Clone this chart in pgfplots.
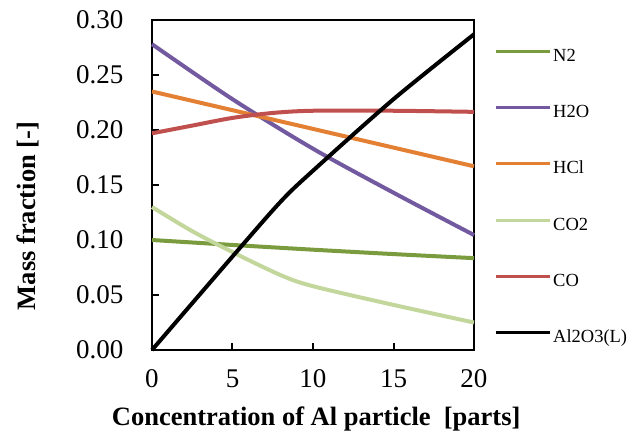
\documentclass[border=0pt]{standalone}
\usepackage{fontspec}
\setmainfont{Liberation Serif}
\usepackage{pgfplots}
\pgfplotsset{compat=1.18}
\definecolor{cN}{RGB}{122,155,62}
\definecolor{cH}{RGB}{115,90,160}
\definecolor{cHCl}{RGB}{228,128,52}
\definecolor{cCOt}{RGB}{195,214,155}
\definecolor{cCO}{RGB}{192,80,77}

\begin{document}
\begin{tikzpicture}[x=1pt,y=1pt]
\useasboundingbox (0,0) rectangle (640,432);
\begin{axis}[
  at={(152pt,82pt)}, anchor=south west,
  scale only axis, width=322pt, height=330pt,
  xmin=0, xmax=20, ymin=0, ymax=0.30,
  xtick={0,5,10,15,20},
  ytick={0,0.05,0.10,0.15,0.20,0.25,0.30},
  yticklabel style={/pgf/number format/fixed, /pgf/number format/fixed zerofill,
    /pgf/number format/precision=2, xshift=-25pt},
  xticklabel style={yshift=-16pt},
  /pgf/number format/assume math mode=true,
  tick label style={font=\fontsize{27}{30}\selectfont},
  axis line style={line width=2.5pt},
  tick style={line width=2pt, black},
  tick align=inside, major tick length=7pt,
  xtick pos=bottom, ytick pos=left,
  clip=false,
  xlabel={\bfseries Concentration of Al particle\ \ [parts]},
  ylabel={\bfseries Mass fraction [-]},
  label style={font=\fontsize{26.5}{32}\selectfont},
  xlabel style={at={(axis description cs:0.51,0)}, anchor=base, yshift=-75pt},
  ylabel style={at={(axis description cs:-0.385,0.406)}, anchor=center},
  every axis plot/.append style={line width=4pt, smooth},
  legend image code/.code={\draw[#1, line width=3pt] (0pt,6pt) -- (54pt,6pt);},
  legend cell align=left,
  legend style={at={(1.062,0.911)}, anchor=north west, draw=none, fill=none,
    inner sep=0pt, row sep=40.2pt, column sep=2pt,
    nodes={inner sep=0pt, text height=12pt, text depth=4pt},
    font=\fontsize{18.5}{20}\selectfont},
]
\addplot[cN] coordinates {(0,0.100)(5,0.0955)(10,0.0912)(15,0.0872)(20,0.0835)};
\addlegendentry{N2}
\addplot[cH] coordinates {(0,0.278)(5,0.228)(10,0.183)(15,0.143)(20,0.1045)};
\addlegendentry{H2O}
\addplot[cHCl] coordinates {(0,0.235)(5,0.218)(10,0.201)(15,0.184)(20,0.167)};
\addlegendentry{HCl}
\addplot[cCOt] coordinates {(0,0.130)(2.5,0.108)(5,0.089)(8,0.068)(10,0.058)(15,0.041)(20,0.025)};
\addlegendentry{CO2}
\addplot[cCO] coordinates {(0,0.197)(2.5,0.204)(5,0.211)(7.5,0.2155)(10,0.2175)(15,0.2175)(20,0.2165)};
\addlegendentry{CO}
\addplot[black] coordinates {(0,0)(5,0.085)(8,0.135)(10,0.163)(15,0.228)(20,0.287)};
\addlegendentry{Al2O3(L)}
\end{axis}
\end{tikzpicture}
\end{document}
